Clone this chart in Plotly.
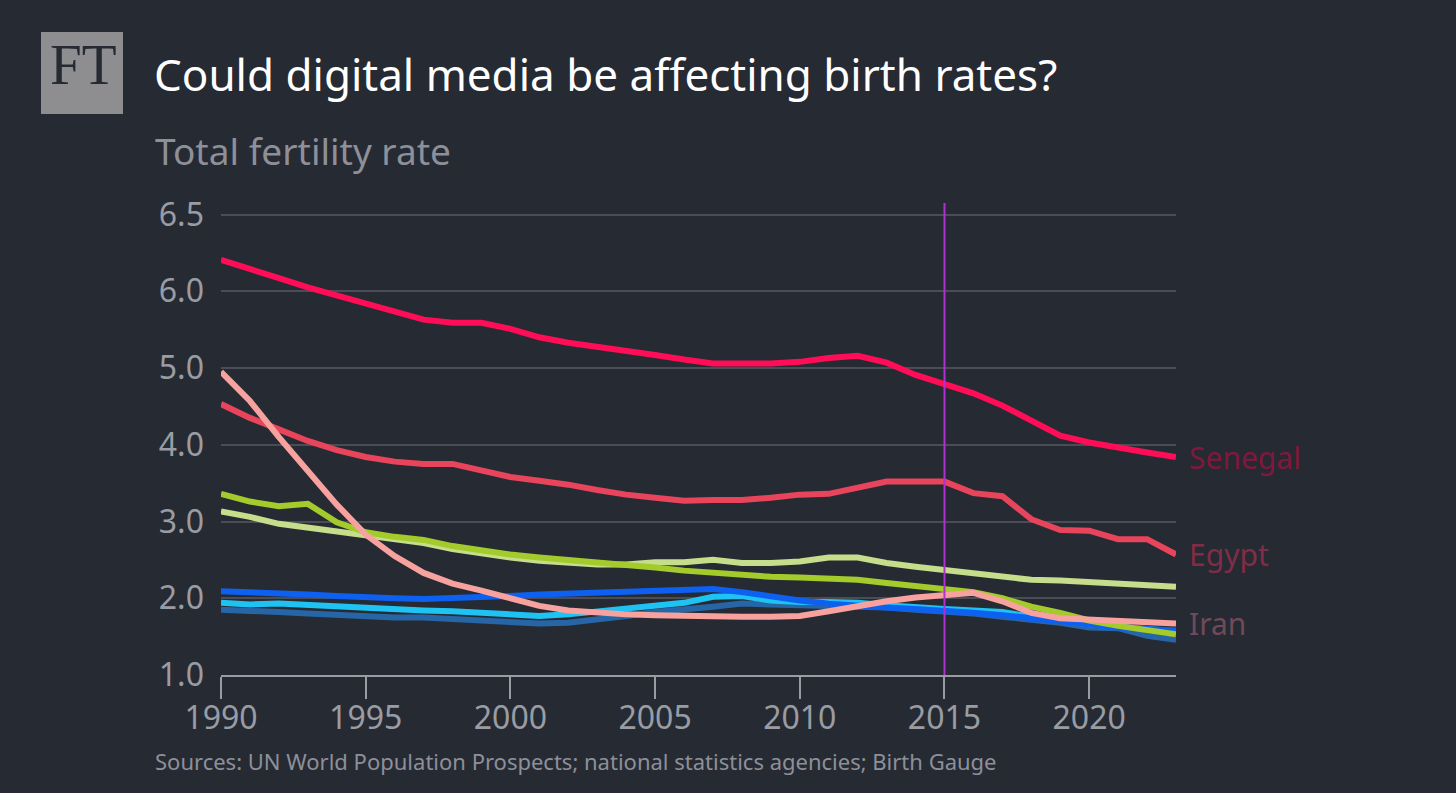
import plotly.graph_objects as go

# ---- data ----
years = list(range(1990, 2024))

senegal = [6.41, 6.28, 6.17, 6.05, 5.94, 5.83, 5.72, 5.63, 5.59, 5.59, 5.51, 5.40,
           5.33, 5.28, 5.23, 5.17, 5.11, 5.06, 5.06, 5.06, 5.08, 5.13, 5.16, 5.07,
           4.91, 4.78, 4.67, 4.51, 4.31, 4.12, 4.03, 3.96, 3.90, 3.84]
egypt = [4.53, 4.35, 4.20, 4.05, 3.93, 3.84, 3.78, 3.75, 3.75, 3.67, 3.58, 3.53,
         3.48, 3.41, 3.35, 3.31, 3.27, 3.28, 3.28, 3.31, 3.35, 3.36, 3.44, 3.52,
         3.52, 3.52, 3.37, 3.33, 3.03, 2.89, 2.88, 2.77, 2.77, 2.57]
iran = [4.95, 4.57, 4.10, 3.65, 3.22, 2.83, 2.55, 2.33, 2.19, 2.10, 2.00, 1.90,
        1.84, 1.81, 1.79, 1.78, 1.77, 1.77, 1.76, 1.76, 1.77, 1.83, 1.90, 1.96,
        2.01, 2.04, 2.07, 1.96, 1.81, 1.74, 1.72, 1.71, 1.69, 1.67]
green = [3.36, 3.26, 3.20, 3.23, 2.99, 2.86, 2.80, 2.76, 2.68, 2.62, 2.57, 2.53,
         2.50, 2.47, 2.43, 2.40, 2.36, 2.33, 2.30, 2.28, 2.27, 2.25, 2.24, 2.20,
         2.16, 2.13, 2.08, 2.00, 1.89, 1.81, 1.71, 1.64, 1.58, 1.53]
light_green = [3.13, 3.06, 2.97, 2.92, 2.87, 2.83, 2.77, 2.72, 2.64, 2.58, 2.53, 2.49,
               2.47, 2.44, 2.44, 2.47, 2.47, 2.50, 2.46, 2.46, 2.48, 2.53, 2.53, 2.46,
               2.41, 2.37, 2.33, 2.28, 2.24, 2.23, 2.21, 2.20, 2.17, 2.15]
blue = [2.09, 2.08, 2.07, 2.05, 2.03, 2.01, 2.00, 1.99, 2.00, 2.02, 2.03, 2.05,
        2.06, 2.07, 2.08, 2.09, 2.11, 2.12, 2.08, 2.02, 1.97, 1.93, 1.90, 1.88,
        1.86, 1.84, 1.81, 1.78, 1.74, 1.70, 1.65, 1.62, 1.60, 1.58]
cyan = [1.94, 1.92, 1.93, 1.91, 1.89, 1.87, 1.85, 1.84, 1.83, 1.81, 1.79, 1.77,
        1.79, 1.83, 1.86, 1.90, 1.94, 2.02, 2.03, 1.97, 1.95, 1.95, 1.94, 1.91,
        1.88, 1.86, 1.84, 1.82, 1.76, 1.71, 1.66, 1.63, 1.60, 1.57]
dark_blue = [1.85, 1.84, 1.82, 1.80, 1.78, 1.76, 1.75, 1.75, 1.73, 1.70, 1.68, 1.67,
             1.68, 1.72, 1.77, 1.82, 1.85, 1.89, 1.93, 1.92, 1.92, 1.91, 1.90, 1.88,
             1.85, 1.83, 1.80, 1.76, 1.72, 1.68, 1.62, 1.61, 1.51, 1.46]

y_tickvals = [1, 2, 3, 4, 5, 6, 7]
y_ticktext = ["1.0", "2.0", "3.0", "4.0", "5.0", "6.0", "6.5"]
x_tickvals = [1990, 1995, 2000, 2005, 2010, 2015, 2020]
marker_year = 2015

# drawn bottom to top
series = [
    (dark_blue, "#2766a6", None, None),
    (cyan, "#1fc3f3", None, None),
    (blue, "#0e60f0", None, None),
    (light_green, "#c6dd8b", None, None),
    (green, "#a3cb2b", None, None),
    (egypt, "#e8445c", "Egypt", "#822d46"),
    (senegal, "#ff0d57", "Senegal", "#80183e"),
    (iran, "#f7a29e", "Iran", "#714a5a"),
]

BG = "#262a33"
L, R, T, B = 221, 1176, 203, 675  # plot area in pixels


def px(x):
    return (x - L) / (R - L)


def py(y):
    return (B - y) / (B - T)


fig = go.Figure()
for vals, col, name, lab_col in series:
    fig.add_trace(go.Scatter(x=years, y=vals, mode="lines",
                             line=dict(color=col, width=6),
                             hoverinfo="skip", showlegend=False))
    if name:
        fig.add_annotation(x=years[-1], y=vals[-1], text=name, showarrow=False,
                           xanchor="left", yanchor="middle", xshift=11,
                           font=dict(family="Noto Sans", size=30, color=lab_col))

fig.add_shape(type="line", x0=marker_year, x1=marker_year, y0=1, y1=7.15,
              xref="x", yref="y", line=dict(color="#b22fd4", width=2), layer="above")

# FT logo
fig.add_shape(type="rect", xref="paper", yref="paper",
              x0=px(41), x1=px(123), y0=py(114), y1=py(32),
              fillcolor="#8e8e90", line=dict(width=0))
fig.add_annotation(xref="paper", yref="paper", x=px(83), y=py(64), text="FT",
                   showarrow=False, xanchor="center", yanchor="middle",
                   font=dict(family="Liberation Serif", size=57, color="#262a33"))

fig.add_annotation(xref="paper", yref="paper", x=px(152), y=py(74),
                   text="Could digital media be affecting birth rates?",
                   showarrow=False, xanchor="left", yanchor="middle",
                   font=dict(family="Noto Sans", size=44, color="#ffffff"))
fig.add_annotation(xref="paper", yref="paper", x=px(153), y=py(150),
                   text="Total fertility rate", showarrow=False,
                   xanchor="left", yanchor="middle",
                   font=dict(family="Noto Sans", size=37, color="#8e9099"))
fig.add_annotation(xref="paper", yref="paper", x=px(153), y=py(761),
                   text="Sources: UN World Population Prospects; national statistics agencies; Birth Gauge",
                   showarrow=False, xanchor="left", yanchor="middle",
                   font=dict(family="Noto Sans", size=22, color="#8e9099"))

fig.update_layout(
    width=1456, height=793,
    margin=dict(l=L, r=1456 - R, t=T, b=793 - B),
    paper_bgcolor=BG, plot_bgcolor=BG,
    font=dict(family="Noto Sans", color="#9a9ca3"),
    xaxis=dict(range=[1990, 2023], tickvals=x_tickvals, showgrid=False,
               zeroline=False, showline=True, linecolor="#9a9ca3", linewidth=2,
               ticks="outside", ticklen=22, tickwidth=2, tickcolor="#9a9ca3",
               ticklabelstandoff=-8,
               tickfont=dict(size=32, color="#9a9ca3")),
    yaxis=dict(range=[1, 7.15], tickvals=y_tickvals, ticktext=y_ticktext,
               showgrid=True, gridcolor="#4a4d56", gridwidth=2, zeroline=False,
               ticks="", ticklabelstandoff=16,
               tickfont=dict(size=32, color="#9a9ca3")),
)

fig.write_html("out.html", config={"displayModeBar": False},
               post_script="document.body.style.margin='0px';"
                           "document.body.style.background='" + BG + "';")
